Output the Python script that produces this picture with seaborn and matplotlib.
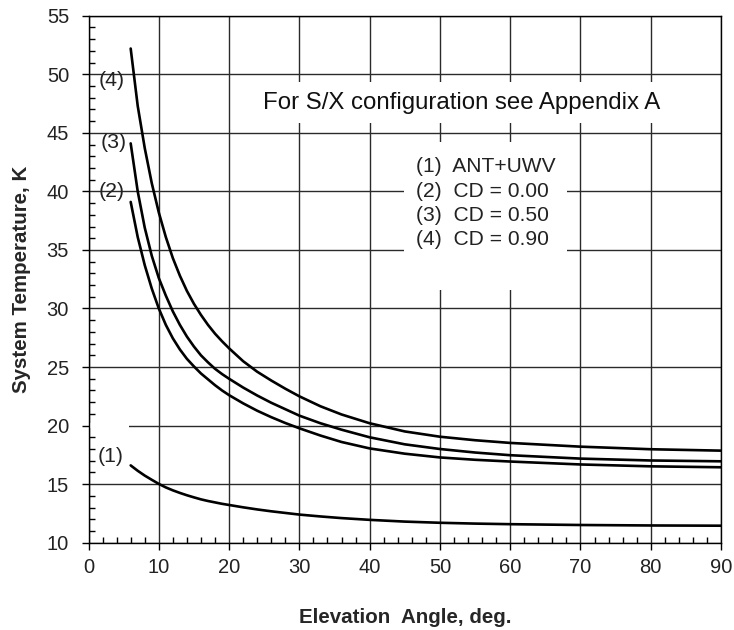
import matplotlib
matplotlib.use("Agg")
import matplotlib.pyplot as plt
from matplotlib.patches import Rectangle
from matplotlib.ticker import MultipleLocator
import seaborn as sns
import pandas as pd

# ---- data ----
elevation = [6, 7, 8, 9, 10, 11, 12, 13, 14, 15, 16, 17, 18, 19, 20,
             22, 24, 26, 28, 30, 33, 36, 40, 45, 50, 55, 60, 70, 80, 90]
t_ant_uwv = [16.6, 16.14, 15.73, 15.37, 15.02, 14.72, 14.47, 14.25, 14.05, 13.87, 13.7, 13.56, 13.44, 13.32, 13.22,
             13.02, 12.84, 12.68, 12.54, 12.4, 12.24, 12.1, 11.95, 11.8, 11.7, 11.63, 11.58, 11.51, 11.47, 11.45]
t_cd000 = [39.1, 36.1, 33.7, 31.7, 30.0, 28.6, 27.45, 26.5, 25.7, 25.05, 24.45, 23.95, 23.45, 23.0, 22.6,
           21.9, 21.27, 20.72, 20.22, 19.77, 19.15, 18.6, 18.05, 17.6, 17.28, 17.08, 16.93, 16.68, 16.52, 16.44]
t_cd050 = [44.1, 40.0, 36.9, 34.5, 32.6, 31.1, 29.75, 28.6, 27.6, 26.75, 26.0, 25.4, 24.85, 24.4, 24.0,
           23.25, 22.57, 21.95, 21.4, 20.85, 20.2, 19.65, 19.0, 18.4, 18.0, 17.7, 17.47, 17.18, 17.02, 16.95]
t_cd090 = [52.2, 47.3, 43.7, 40.7, 38.2, 36.1, 34.3, 32.8, 31.5, 30.4, 29.45, 28.6, 27.85, 27.2, 26.6,
           25.5, 24.6, 23.85, 23.15, 22.5, 21.65, 20.95, 20.2, 19.5, 19.05, 18.75, 18.52, 18.2, 17.98, 17.86]
curve_ids = ["(1)", "(2)", "(3)", "(4)"]
legend_lines = ["(1)  ANT+UWV", "(2)  CD = 0.00", "(3)  CD = 0.50", "(4)  CD = 0.90"]
note_text = "For S/X configuration see Appendix A"
x_label = "Elevation  Angle, deg."
y_label = "System Temperature, K"

series = [t_ant_uwv, t_cd000, t_cd050, t_cd090]
df = pd.concat([pd.DataFrame({"elev": elevation, "tsys": s, "curve": cid})
                for s, cid in zip(series, curve_ids)], ignore_index=True)

sns.set_style("white")
plt.rcParams["font.family"] = ["Liberation Sans", "DejaVu Sans"]

fig = plt.figure(figsize=(7.34, 6.3), dpi=100)
ax = fig.add_axes([0.1206, 0.1386, 0.8617, 0.8364])

sns.lineplot(data=df, x="elev", y="tsys", hue="curve",
             palette=["black"] * 4, legend=False, ax=ax,
             linewidth=1.9, zorder=3, sort=False)
for ln in ax.get_lines():
    ln.set_solid_joinstyle("round")

ax.set_xlim(0, 90)
ax.set_ylim(10, 55)
ax.xaxis.set_major_locator(MultipleLocator(10))
ax.xaxis.set_minor_locator(MultipleLocator(2))
ax.yaxis.set_major_locator(MultipleLocator(5))
ax.yaxis.set_minor_locator(MultipleLocator(1))
ax.set_axisbelow(True)
ax.grid(True, which="major", color="#2a2a2a", linewidth=1.0)
ax.grid(False, which="minor")

for sp in ax.spines.values():
    sp.set_color("black")
    sp.set_linewidth(1.0)

ax.tick_params(which="major", direction="out", length=5, width=1.0, color="black",
               labelsize=14.5, labelcolor="#222222")
ax.tick_params(axis="x", which="major", pad=6)
ax.tick_params(axis="y", which="major", pad=9)
ax.tick_params(which="minor", direction="in", length=4, width=1.0, color="black")
ax.tick_params(which="both", top=False, right=False, bottom=True, left=True)

ax.set_xlabel(x_label, fontsize=14.8, fontweight="bold", labelpad=22)
ax.set_ylabel(y_label, fontsize=14.8, fontweight="bold", labelpad=11)

# white boxes hiding the grid behind the annotations
ax.add_patch(Rectangle((23, 45.85), 64, 3.5, facecolor="white", edgecolor="none", zorder=1))
ax.add_patch(Rectangle((44.9, 31.6), 23.2, 12.66, facecolor="white", edgecolor="none", zorder=1))
ax.add_patch(Rectangle((0.15, 19.8), 5.55, 0.4, facecolor="white", edgecolor="none", zorder=1))

ax.text(53.1, 47.55, note_text, fontsize=17.3, ha="center", va="center",
        color="#111111", zorder=4)
leg_y = [42.1, 40.0, 37.95, 35.9]
for yy, txt in zip(leg_y, legend_lines):
    ax.text(46.6, yy, txt, fontsize=15.1, ha="left", va="center", color="#222222", zorder=4)

label_pos = [(5.05, 17.4), (5.2, 40.0), (5.5, 44.2), (5.2, 49.5)]
for (xx, yy), cid in zip(label_pos, curve_ids):
    ax.text(xx, yy, cid, fontsize=15.3, ha="right", va="center", color="#222222", zorder=4)

fig.savefig("out.png", dpi=100)
